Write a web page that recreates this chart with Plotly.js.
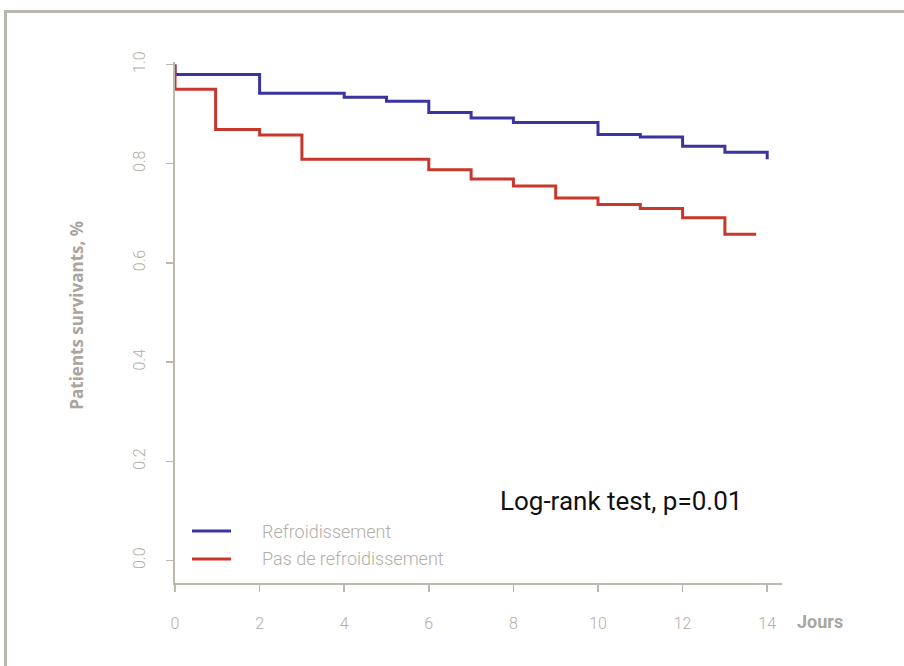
<!DOCTYPE html>
<html>
<head>
<meta charset="utf-8">
<script src="https://cdn.plot.ly/plotly-3.0.1.min.js"></script>
<style>
  html, body { margin: 0; padding: 0; background: #fff; }
  #wrap { position: relative; width: 904px; height: 666px; }
  #chart { position: absolute; left: 0; top: 0; width: 904px; height: 666px; }
  #frame { position: absolute; left: 4px; top: 10px; width: 900px; height: 656px;
           border-top: 3px solid #b9b6ad; border-left: 3px solid #b9b6ad; pointer-events: none; box-sizing: border-box; }
</style>
</head>
<body>
<div id="wrap">
  <div id="chart"></div>
  <div id="frame"></div>
</div>
<script>
// Kaplan-Meier step data (days, survival proportion)
const seriesNames = ["Refroidissement", "Pas de refroidissement"];
const seriesColors = ["#3a33a2", "#c8362c"];
const coolDays = [0, 0, 2, 4, 5, 6, 7, 8, 10, 11, 12, 13, 14];
const coolSurv = [1.0, 0.980, 0.942, 0.934, 0.926, 0.903, 0.892, 0.883, 0.859, 0.854, 0.835, 0.823, 0.809];
const noCoolDays = [0, 0, 0.96, 2, 3, 6, 7, 8, 9, 10, 11, 12, 13, 13.74];
const noCoolSurv = [1.0, 0.950, 0.869, 0.858, 0.809, 0.788, 0.769, 0.755, 0.731, 0.718, 0.710, 0.691, 0.658, 0.658];
const xTicks = [0, 2, 4, 6, 8, 10, 12, 14];
const yTicks = [0.0, 0.2, 0.4, 0.6, 0.8, 1.0];
const annotText = "Log-rank test, p=0.01";
const xLabel = "Jours";
const yLabel = "Patients survivants, %";

const grey = "#b3aea6";
const tickFont = { family: "Roboto, sans-serif", size: 16, color: grey, weight: 300 };

const traces = [
  { x: coolDays, y: coolSurv, name: seriesNames[0], mode: "lines",
    line: { shape: "hv", color: seriesColors[0], width: 3 } },
  { x: noCoolDays, y: noCoolSurv, name: seriesNames[1], mode: "lines",
    line: { shape: "hv", color: seriesColors[1], width: 3 } }
];

// Hand-placed legend (line sample + label), styled like the original
const legendRowsY = [0.0998, 0.0461];
const legendShapes = seriesNames.map((n, i) => ({
  type: "line", xref: "paper", yref: "paper",
  x0: 0.028, x1: 0.0923, y0: legendRowsY[i], y1: legendRowsY[i],
  line: { color: seriesColors[i], width: 3 }
}));
const legendLabels = seriesNames.map((n, i) => ({
  text: n, xref: "paper", yref: "paper", x: 0.140, y: legendRowsY[i],
  xanchor: "left", yanchor: "middle", showarrow: false,
  font: { family: "Roboto, sans-serif", size: 18, color: grey, weight: 300 }
}));

const layout = {
  width: 904, height: 666,
  margin: { l: 175, r: 122, t: 62, b: 83 },
  paper_bgcolor: "#ffffff", plot_bgcolor: "#ffffff",
  showlegend: false,
  xaxis: {
    range: [0, 14.35], tickvals: xTicks, ticktext: xTicks.map(String),
    showgrid: false, zeroline: false, showline: true, linecolor: "#bcb8b0", linewidth: 2,
    ticks: "outside", ticklen: 7, tickwidth: 1.5, tickcolor: "#bcb8b0",
    tickfont: tickFont, ticklabelstandoff: 18, fixedrange: true
  },
  yaxis: {
    range: [-0.045, 1.005], tickvals: yTicks, tickformat: ".1f",
    showgrid: false, zeroline: false, showline: true, linecolor: "#bcb8b0", linewidth: 2,
    ticks: "outside", ticklen: 7, tickwidth: 1.5, tickcolor: "#bcb8b0",
    tickangle: -90, tickfont: tickFont, ticklabelstandoff: 15,
    automargin: false, fixedrange: true
  },
  shapes: legendShapes,
  annotations: [
    { text: annotText, xref: "x", yref: "y", x: 10.54, y: 0.12, showarrow: false,
      xanchor: "center", yanchor: "middle",
      font: { family: "Roboto, sans-serif", size: 26, color: "#111111" } },
    { text: xLabel, xref: "paper", yref: "paper", x: 1.021, y: -0.073, showarrow: false,
      xanchor: "left", yanchor: "middle",
      font: { family: "Roboto, sans-serif", size: 18, color: "#aaa59d", weight: "bold" } },
    { text: yLabel, xref: "paper", yref: "paper", x: -0.1615, y: 0.515, showarrow: false,
      textangle: -90, xanchor: "center", yanchor: "middle",
      font: { family: "Open Sans, sans-serif", size: 17, color: "#aaa59d", weight: "bold" } }
  ].concat(legendLabels)
};

Plotly.newPlot("chart", traces, layout, { displayModeBar: false, staticPlot: true });
</script>
</body>
</html>
